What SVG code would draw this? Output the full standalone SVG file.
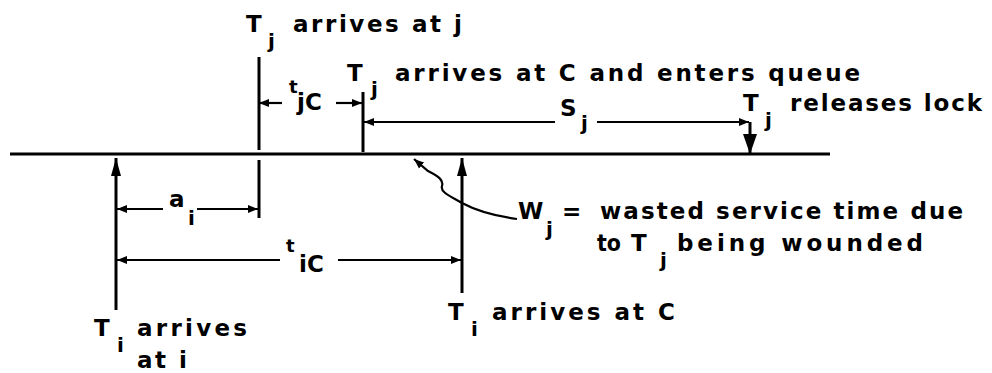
<svg xmlns="http://www.w3.org/2000/svg" width="992" height="373" viewBox="0 0 992 373">
<style>
text{font-family:"DejaVu Sans","Liberation Sans",sans-serif;font-weight:bold;font-size:23px;fill:#000}
.sub{font-size:20px}
.small{font-size:18px}
.thick{stroke:#000;stroke-width:3;fill:none}
.dim{stroke:#000;stroke-width:2.2;fill:none}
</style>
<defs>
<marker id="ah" markerUnits="userSpaceOnUse" markerWidth="11" markerHeight="9" refX="10" refY="4.5" orient="auto"><path d="M0,0.5 L10,4.5 L0,8.5 z" fill="#000"/></marker>
<marker id="big" markerUnits="userSpaceOnUse" markerWidth="19" markerHeight="11" refX="18" refY="5.5" orient="auto"><path d="M0,0.5 L18,5.5 L0,10.5 z" fill="#000"/></marker>
<marker id="bigd" markerUnits="userSpaceOnUse" markerWidth="21" markerHeight="15" refX="20" refY="7.5" orient="auto"><path d="M0,0.5 L20,7.5 L0,14.5 z" fill="#000"/></marker>
</defs>
<rect width="992" height="373" fill="#fff"/>
<g id="connectors">
<path id="timeline" class="thick" d="M10,154 H830"/>
<path class="thick" d="M259,57 V150 M259,160 V218"/>
<path class="thick" d="M363,92 V152"/>
<path class="thick" d="M116,310 V158" marker-end="url(#big)"/>
<path class="thick" d="M462,293 V158" marker-end="url(#big)"/>
<path class="thick" d="M750,122 V154" marker-end="url(#bigd)"/>
<path class="dim" d="M282,103 H259" marker-end="url(#ah)"/>
<path class="dim" d="M336,103 H362" marker-end="url(#ah)"/>
<path class="dim" d="M555,122 H364" marker-end="url(#ah)"/>
<path class="dim" d="M597,122 H749" marker-end="url(#ah)"/>
<path class="dim" d="M163,209 H117" marker-end="url(#ah)"/>
<path class="dim" d="M197,209 H258" marker-end="url(#ah)"/>
<path class="dim" d="M280,260 H117" marker-end="url(#ah)"/>
<path class="dim" d="M338,260 H461" marker-end="url(#ah)"/>
<path class="dim" d="M517,219 C495,216 475,210 462,203 C450,196 440,192 442,186 C444,180 438,176 428,171 L414,159" marker-end="url(#ah)"/>
</g>
<g id="tj-arrives-j">
<text x="246" y="32">T</text><text class="sub" x="268" y="48">j</text>
<text x="293" y="32" textLength="169" lengthAdjust="spacing">arrives at j</text>
</g>
<g id="tj-arrives-c">
<text x="347" y="81">T</text><text class="sub" x="371" y="96">j</text>
<text x="395" y="81" textLength="465" lengthAdjust="spacing">arrives at C and enters queue</text>
</g>
<g id="tjc">
<text class="small" x="289" y="93">t</text><text x="297" y="110">jC</text>
</g>
<g id="sj">
<text x="560" y="116">S</text><text class="sub" x="581" y="130">j</text>
</g>
<g id="tj-releases">
<text x="743" y="111">T</text><text class="sub" x="765" y="127">j</text>
<text x="790" y="111" textLength="192" lengthAdjust="spacing">releases lock</text>
</g>
<g id="ai">
<text x="169" y="207">a</text><text class="sub" x="188" y="225">i</text>
</g>
<g id="tic">
<text class="small" x="286" y="252">t</text><text x="299" y="272">iC</text>
</g>
<g id="wj">
<text x="518" y="219">W</text><text class="sub" x="546" y="236">j</text>
<text x="562" y="219">=</text>
<text x="600" y="219" textLength="363" lengthAdjust="spacing">wasted service time due</text>
<text x="597" y="251" textLength="24" lengthAdjust="spacingAndGlyphs">to</text>
<text x="631" y="251">T</text><text class="sub" x="660" y="267">j</text>
<text x="677" y="251" textLength="246" lengthAdjust="spacing">being wounded</text>
</g>
<g id="ti-arrives-c">
<text x="448" y="320">T</text><text class="sub" x="471" y="336">i</text>
<text x="492" y="320" textLength="183" lengthAdjust="spacing">arrives at C</text>
</g>
<g id="ti-arrives-i">
<text x="94" y="336">T</text><text class="sub" x="117" y="352">i</text>
<text x="137" y="336" textLength="110" lengthAdjust="spacing">arrives</text>
<text x="137" y="368" textLength="50" lengthAdjust="spacing">at i</text>
</g>
</svg>
